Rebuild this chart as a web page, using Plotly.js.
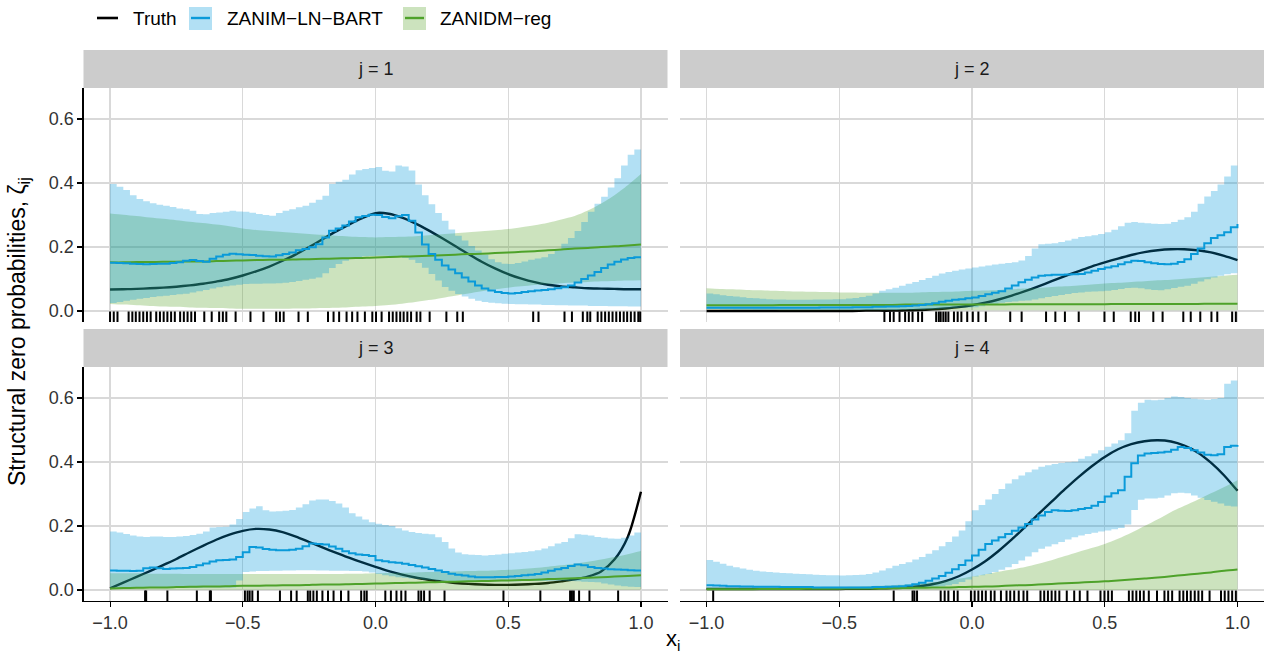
<!DOCTYPE html>
<html>
<head>
<meta charset="utf-8">
<script src="https://cdn.plot.ly/plotly-3.0.1.min.js"></script>
<style>
  html, body { margin: 0; padding: 0; background: #fff; }
  #chart { width: 1269px; height: 655px; }
</style>
</head>
<body>
<div id="chart"></div>
<script>
// Grids of covariate values at which the curves are evaluated
const X_SMOOTH = [
  -1.00, -0.95, -0.90, -0.85, -0.80, -0.75, -0.70, -0.65, -0.60, -0.55,
  -0.50, -0.45, -0.40, -0.35, -0.30, -0.25, -0.20, -0.15, -0.10, -0.05,
   0.00,  0.05,  0.10,  0.15,  0.20,  0.25,  0.30,  0.35,  0.40,  0.45,
   0.50,  0.55,  0.60,  0.65,  0.70,  0.75,  0.80,  0.85,  0.90,  0.95,
   1.00
];
const X_STEP = [
  -1.000, -0.975, -0.950, -0.925, -0.900, -0.875, -0.850, -0.825, -0.800, -0.775,
  -0.750, -0.725, -0.700, -0.675, -0.650, -0.625, -0.600, -0.575, -0.550, -0.525,
  -0.500, -0.475, -0.450, -0.425, -0.400, -0.375, -0.350, -0.325, -0.300, -0.275,
  -0.250, -0.225, -0.200, -0.175, -0.150, -0.125, -0.100, -0.075, -0.050, -0.025,
   0.000,  0.025,  0.050,  0.075,  0.100,  0.125,  0.150,  0.175,  0.200,  0.225,
   0.250,  0.275,  0.300,  0.325,  0.350,  0.375,  0.400,  0.425,  0.450,  0.475,
   0.500,  0.525,  0.550,  0.575,  0.600,  0.625,  0.650,  0.675,  0.700,  0.725,
   0.750,  0.775,  0.800,  0.825,  0.850,  0.875,  0.900,  0.925,  0.950,  0.975,
   1.000
];

const PANEL_LABELS = ['j = 1', 'j = 2', 'j = 3', 'j = 4'];
const SERIES_NAMES = ['Truth', 'ZANIM\u2212LN\u2212BART', 'ZANIDM\u2212reg'];
const X_TICKS = [-1, -0.5, 0, 0.5, 1];
const Y_TICKS = [0, 0.2, 0.4, 0.6];

// ---------- j = 1 ----------
const TRUTH_J1 = [
  0.067, 0.068, 0.069, 0.071, 0.073, 0.076, 0.080, 0.085, 0.092, 0.100,
  0.111, 0.124, 0.139, 0.157, 0.177, 0.200, 0.224, 0.248, 0.270, 0.290,
  0.306, 0.304, 0.292, 0.274, 0.252, 0.228, 0.203, 0.178, 0.154, 0.133,
  0.115, 0.101, 0.090, 0.082, 0.077, 0.074, 0.071, 0.070, 0.069, 0.068,
  0.068
];
const BART_MEAN_J1 = [
  0.151, 0.150, 0.149, 0.148, 0.147, 0.146, 0.147, 0.148, 0.148, 0.150,
  0.152, 0.157, 0.159, 0.156, 0.154, 0.163, 0.170, 0.176, 0.179, 0.177,
  0.176, 0.175, 0.173, 0.171, 0.170, 0.174, 0.178, 0.183, 0.190, 0.194,
  0.199, 0.209, 0.230, 0.251, 0.258, 0.267, 0.280, 0.293, 0.297, 0.301,
  0.300, 0.294, 0.290, 0.296, 0.300, 0.282, 0.245, 0.208, 0.178, 0.160,
  0.142, 0.130, 0.118, 0.105, 0.092, 0.080, 0.070, 0.064, 0.059, 0.056,
  0.055, 0.056, 0.059, 0.062, 0.064, 0.066, 0.068, 0.071, 0.074, 0.080,
  0.089, 0.100, 0.111, 0.122, 0.134, 0.145, 0.154, 0.161, 0.166, 0.168,
  0.168
];
const BART_HI_J1 = [
  0.397, 0.388, 0.378, 0.362, 0.350, 0.343, 0.337, 0.332, 0.329, 0.325,
  0.320, 0.318, 0.313, 0.303, 0.302, 0.306, 0.308, 0.310, 0.313, 0.311,
  0.310, 0.307, 0.303, 0.300, 0.298, 0.306, 0.313, 0.318, 0.324, 0.329,
  0.338, 0.348, 0.360, 0.397, 0.404, 0.410, 0.427, 0.440, 0.444, 0.447,
  0.450, 0.438, 0.436, 0.455, 0.452, 0.439, 0.395, 0.362, 0.334, 0.306,
  0.282, 0.255, 0.235, 0.220, 0.203, 0.189, 0.176, 0.162, 0.152, 0.148,
  0.147, 0.150, 0.155, 0.160, 0.164, 0.168, 0.178, 0.192, 0.210, 0.228,
  0.250, 0.278, 0.310, 0.335, 0.357, 0.386, 0.415, 0.455, 0.488, 0.505,
  0.517
];
const BART_LO_J1 = [
  0.025, 0.028, 0.032, 0.035, 0.038, 0.041, 0.044, 0.046, 0.048, 0.050,
  0.052, 0.054, 0.058, 0.062, 0.066, 0.070, 0.074, 0.077, 0.080, 0.082,
  0.084, 0.085, 0.085, 0.086, 0.086, 0.087, 0.088, 0.091, 0.094, 0.098,
  0.101, 0.105, 0.118, 0.134, 0.147, 0.157, 0.166, 0.169, 0.171, 0.172,
  0.173, 0.173, 0.172, 0.170, 0.166, 0.160, 0.150, 0.135, 0.116, 0.095,
  0.075, 0.063, 0.053, 0.045, 0.038, 0.032, 0.028, 0.026, 0.024, 0.023,
  0.022, 0.021, 0.021, 0.020, 0.020, 0.019, 0.019, 0.018, 0.018, 0.017,
  0.017, 0.017, 0.016, 0.016, 0.016, 0.015, 0.015, 0.015, 0.014, 0.014,
  0.014
];
const REG_MEAN_J1 = [
  0.152, 0.152, 0.153, 0.153, 0.154, 0.154, 0.155, 0.155, 0.156, 0.157,
  0.158, 0.159, 0.160, 0.160, 0.161, 0.162, 0.163, 0.164, 0.165, 0.166,
  0.167, 0.169, 0.170, 0.171, 0.173, 0.174, 0.176, 0.178, 0.179, 0.181,
  0.183, 0.185, 0.187, 0.190, 0.192, 0.195, 0.197, 0.200, 0.202, 0.205,
  0.208
];
const REG_HI_J1 = [
  0.305, 0.301, 0.297, 0.292, 0.288, 0.284, 0.279, 0.275, 0.270, 0.265,
  0.258, 0.253, 0.250, 0.247, 0.244, 0.241, 0.238, 0.235, 0.233, 0.231,
  0.230, 0.231, 0.232, 0.234, 0.237, 0.240, 0.243, 0.246, 0.249, 0.252,
  0.256, 0.262, 0.268, 0.276, 0.286, 0.297, 0.314, 0.336, 0.362, 0.393,
  0.428
];
const REG_LO_J1 = [
  0.022, 0.020, 0.018, 0.016, 0.014, 0.013, 0.011, 0.010, 0.009, 0.008,
  0.007, 0.007, 0.007, 0.007, 0.008, 0.008, 0.009, 0.010, 0.012, 0.014,
  0.016, 0.019, 0.023, 0.028, 0.034, 0.041, 0.048, 0.055, 0.062, 0.068,
  0.073, 0.077, 0.081, 0.084, 0.087, 0.089, 0.091, 0.093, 0.094, 0.095,
  0.096
];
const RUG_J1 = [
  -1.000, -0.986, -0.972, -0.930, -0.916, -0.903, -0.889, -0.875, -0.861, -0.847,
  -0.826, -0.812, -0.798, -0.784, -0.770, -0.756, -0.736, -0.722, -0.708, -0.694,
  -0.680, -0.645, -0.617, -0.589, -0.575, -0.562, -0.527, -0.471, -0.422, -0.374,
  -0.360, -0.346, -0.290, -0.255, -0.179, -0.158, -0.137, -0.109, -0.088, -0.068,
  -0.040, -0.012, 0.002, 0.023, 0.051, 0.065, 0.079, 0.093, 0.106, 0.120,
  0.134, 0.155, 0.169, 0.204, 0.267, 0.308, 0.329, 0.594, 0.614, 0.712,
  0.740, 0.781, 0.798, 0.809, 0.837, 0.851, 0.865, 0.879, 0.893, 0.907,
  0.921, 0.935, 0.948, 0.962, 0.976, 0.990, 0.997
];

// ---------- j = 2 ----------
const TRUTH_J2 = [
  0.000, 0.000, 0.000, 0.000, 0.000, 0.000, 0.000, 0.000, 0.000, 0.000,
  0.000, 0.000, 0.001, 0.001, 0.001, 0.002, 0.003, 0.005, 0.008, 0.012,
  0.018, 0.026, 0.036, 0.048, 0.062, 0.077, 0.093, 0.109, 0.124, 0.139,
  0.152, 0.164, 0.175, 0.184, 0.190, 0.193, 0.193, 0.190, 0.183, 0.172,
  0.159
];
const BART_MEAN_J2 = [
  0.010, 0.010, 0.010, 0.010, 0.010, 0.010, 0.010, 0.010, 0.010, 0.010,
  0.010, 0.010, 0.010, 0.010, 0.010, 0.010, 0.010, 0.011, 0.011, 0.011,
  0.011, 0.011, 0.012, 0.012, 0.012, 0.013, 0.013, 0.014, 0.014, 0.015,
  0.016, 0.017, 0.019, 0.021, 0.024, 0.029, 0.032, 0.035, 0.037, 0.040,
  0.042, 0.047, 0.052, 0.057, 0.062, 0.070, 0.080, 0.090, 0.098, 0.105,
  0.110, 0.112, 0.113, 0.113, 0.114, 0.115, 0.116, 0.120, 0.126, 0.131,
  0.136, 0.140, 0.146, 0.152, 0.157, 0.156, 0.152, 0.149, 0.147, 0.146,
  0.148, 0.153, 0.162, 0.178, 0.195, 0.212, 0.228, 0.237, 0.246, 0.262,
  0.272
];
const BART_HI_J2 = [
  0.055, 0.052, 0.049, 0.047, 0.045, 0.043, 0.041, 0.040, 0.038, 0.037,
  0.036, 0.036, 0.035, 0.035, 0.035, 0.035, 0.036, 0.036, 0.036, 0.037,
  0.037, 0.039, 0.041, 0.044, 0.048, 0.055, 0.063, 0.068, 0.073, 0.079,
  0.085, 0.091, 0.097, 0.103, 0.110, 0.117, 0.122, 0.126, 0.130, 0.133,
  0.136, 0.139, 0.142, 0.145, 0.148, 0.150, 0.152, 0.158, 0.172, 0.195,
  0.209, 0.210, 0.212, 0.216, 0.220, 0.226, 0.231, 0.234, 0.237, 0.241,
  0.246, 0.254, 0.265, 0.276, 0.278, 0.276, 0.274, 0.273, 0.272, 0.273,
  0.278, 0.285, 0.293, 0.310, 0.335, 0.358, 0.375, 0.395, 0.420, 0.455,
  0.476
];
const BART_LO_J2 = [
  0.006, 0.006, 0.005, 0.005, 0.004, 0.004, 0.004, 0.003, 0.003, 0.003,
  0.003, 0.003, 0.003, 0.003, 0.003, 0.003, 0.003, 0.003, 0.003, 0.003,
  0.003, 0.003, 0.003, 0.003, 0.003, 0.003, 0.003, 0.003, 0.003, 0.004,
  0.004, 0.005, 0.005, 0.006, 0.006, 0.007, 0.008, 0.009, 0.010, 0.011,
  0.012, 0.015, 0.019, 0.023, 0.026, 0.028, 0.030, 0.032, 0.033, 0.036,
  0.040, 0.044, 0.047, 0.050, 0.053, 0.056, 0.058, 0.060, 0.061, 0.062,
  0.063, 0.066, 0.069, 0.072, 0.073, 0.071, 0.068, 0.066, 0.065, 0.068,
  0.072, 0.076, 0.079, 0.085, 0.092, 0.099, 0.105, 0.110, 0.115, 0.118,
  0.120
];
const REG_MEAN_J2 = [
  0.018, 0.018, 0.018, 0.018, 0.018, 0.018, 0.019, 0.019, 0.019, 0.019,
  0.019, 0.019, 0.019, 0.019, 0.019, 0.020, 0.020, 0.020, 0.020, 0.020,
  0.020, 0.020, 0.020, 0.021, 0.021, 0.021, 0.021, 0.021, 0.021, 0.021,
  0.021, 0.022, 0.022, 0.022, 0.022, 0.022, 0.022, 0.022, 0.023, 0.023,
  0.023
];
const REG_HI_J2 = [
  0.071, 0.069, 0.068, 0.066, 0.065, 0.063, 0.062, 0.061, 0.060, 0.059,
  0.058, 0.058, 0.057, 0.057, 0.057, 0.057, 0.058, 0.059, 0.060, 0.061,
  0.063, 0.064, 0.066, 0.068, 0.070, 0.072, 0.075, 0.077, 0.080, 0.083,
  0.086, 0.088, 0.091, 0.093, 0.096, 0.098, 0.101, 0.104, 0.107, 0.110,
  0.113
];
const REG_LO_J2 = [
  0.004, 0.004, 0.003, 0.003, 0.003, 0.003, 0.002, 0.002, 0.002, 0.002,
  0.002, 0.002, 0.002, 0.002, 0.002, 0.002, 0.002, 0.002, 0.002, 0.002,
  0.002, 0.002, 0.002, 0.002, 0.002, 0.002, 0.002, 0.002, 0.002, 0.002,
  0.002, 0.002, 0.002, 0.002, 0.002, 0.002, 0.002, 0.002, 0.002, 0.002,
  0.002
];
const RUG_J2 = [
  -0.330, -0.309, -0.295, -0.273, -0.252, -0.238, -0.224, -0.203, -0.188, -0.135,
  -0.125, -0.118, -0.108, -0.099, -0.089, -0.068, -0.054, -0.040, -0.018, 0.003,
  0.024, 0.052, 0.144, 0.187, 0.279, 0.314, 0.350, 0.402, 0.499, 0.534,
  0.598, 0.615, 0.629, 0.683, 0.718, 0.796, 0.824, 0.860, 0.902, 0.924,
  0.980, 0.994
];

// ---------- j = 3 ----------
const TRUTH_J3 = [
  0.005, 0.023, 0.041, 0.059, 0.078, 0.097, 0.118, 0.138, 0.157, 0.173,
  0.185, 0.191, 0.189, 0.181, 0.167, 0.150, 0.133, 0.117, 0.101, 0.086,
  0.072, 0.059, 0.048, 0.039, 0.032, 0.026, 0.022, 0.019, 0.017, 0.016,
  0.016, 0.017, 0.019, 0.022, 0.027, 0.033, 0.042, 0.058, 0.095, 0.165,
  0.307
];
const BART_MEAN_J3 = [
  0.061, 0.060, 0.060, 0.059, 0.060, 0.068, 0.070, 0.068, 0.066, 0.067,
  0.068, 0.069, 0.072, 0.077, 0.083, 0.089, 0.093, 0.094, 0.095, 0.103,
  0.118, 0.134, 0.133, 0.128, 0.126, 0.124, 0.124, 0.126, 0.129, 0.137,
  0.145, 0.144, 0.142, 0.136, 0.129, 0.121, 0.115, 0.111, 0.109, 0.106,
  0.093, 0.090, 0.087, 0.085, 0.082, 0.078, 0.074, 0.070, 0.066, 0.061,
  0.056, 0.051, 0.048, 0.045, 0.042, 0.040, 0.040, 0.040, 0.041, 0.041,
  0.042, 0.044, 0.046, 0.048, 0.050, 0.055, 0.060, 0.065, 0.069, 0.075,
  0.080, 0.077, 0.072, 0.069, 0.067, 0.065, 0.064, 0.063, 0.062, 0.061,
  0.061
];
const BART_HI_J3 = [
  0.183, 0.180, 0.175, 0.170, 0.167, 0.166, 0.167, 0.167, 0.166, 0.166,
  0.167, 0.169, 0.172, 0.176, 0.183, 0.195, 0.197, 0.198, 0.205, 0.222,
  0.244, 0.255, 0.262, 0.249, 0.245, 0.246, 0.248, 0.250, 0.258, 0.268,
  0.280, 0.283, 0.283, 0.278, 0.270, 0.258, 0.240, 0.230, 0.220, 0.212,
  0.207, 0.203, 0.200, 0.193, 0.186, 0.181, 0.178, 0.176, 0.174, 0.165,
  0.150, 0.130, 0.117, 0.112, 0.110, 0.109, 0.108, 0.109, 0.111, 0.113,
  0.115, 0.117, 0.119, 0.121, 0.124, 0.130, 0.137, 0.145, 0.150, 0.162,
  0.174, 0.173, 0.170, 0.166, 0.163, 0.161, 0.160, 0.163, 0.170, 0.180,
  0.183
];
const BART_LO_J3 = [
  0.005, 0.005, 0.005, 0.006, 0.006, 0.006, 0.006, 0.006, 0.006, 0.007,
  0.007, 0.007, 0.007, 0.007, 0.008, 0.008, 0.008, 0.008, 0.008, 0.030,
  0.056, 0.058, 0.059, 0.059, 0.060, 0.060, 0.061, 0.061, 0.062, 0.062,
  0.062, 0.061, 0.061, 0.060, 0.060, 0.060, 0.059, 0.059, 0.058, 0.055,
  0.050, 0.046, 0.043, 0.040, 0.038, 0.036, 0.034, 0.032, 0.031, 0.030,
  0.029, 0.028, 0.028, 0.027, 0.027, 0.027, 0.027, 0.027, 0.027, 0.027,
  0.027, 0.027, 0.028, 0.028, 0.028, 0.028, 0.029, 0.029, 0.029, 0.028,
  0.027, 0.026, 0.025, 0.024, 0.020, 0.017, 0.014, 0.012, 0.010, 0.009,
  0.008
];
const REG_MEAN_J3 = [
  0.005, 0.006, 0.007, 0.008, 0.008, 0.009, 0.010, 0.011, 0.011, 0.012,
  0.013, 0.013, 0.014, 0.015, 0.015, 0.016, 0.017, 0.017, 0.018, 0.019,
  0.020, 0.021, 0.022, 0.023, 0.024, 0.025, 0.026, 0.027, 0.028, 0.029,
  0.030, 0.031, 0.032, 0.034, 0.035, 0.037, 0.038, 0.040, 0.042, 0.044,
  0.046
];
const REG_HI_J3 = [
  0.052, 0.052, 0.052, 0.051, 0.051, 0.051, 0.050, 0.050, 0.050, 0.050,
  0.050, 0.050, 0.050, 0.050, 0.050, 0.050, 0.050, 0.050, 0.051, 0.051,
  0.052, 0.053, 0.054, 0.055, 0.056, 0.057, 0.058, 0.059, 0.060, 0.061,
  0.063, 0.066, 0.069, 0.073, 0.077, 0.082, 0.088, 0.095, 0.103, 0.112,
  0.122
];
const REG_LO_J3 = [
  0.001, 0.001, 0.001, 0.001, 0.001, 0.001, 0.001, 0.001, 0.001, 0.001,
  0.001, 0.001, 0.001, 0.001, 0.001, 0.001, 0.001, 0.001, 0.001, 0.001,
  0.001, 0.001, 0.001, 0.001, 0.001, 0.001, 0.001, 0.001, 0.001, 0.001,
  0.001, 0.001, 0.001, 0.001, 0.001, 0.001, 0.001, 0.001, 0.001, 0.001,
  0.001
];
const RUG_J3 = [
  -0.868, -0.864, -0.784, -0.673, -0.624, -0.620, -0.492, -0.482, -0.474, -0.464,
  -0.443, -0.360, -0.318, -0.297, -0.255, -0.246, -0.234, -0.221, -0.200, -0.179,
  -0.158, -0.130, -0.102, -0.054, -0.042, -0.033, 0.037, 0.058, 0.079, 0.097,
  0.113, 0.162, 0.172, 0.183, 0.204, 0.260, 0.482, 0.621, 0.733, 0.740,
  0.747, 0.767, 0.806, 0.914
];

// ---------- j = 4 ----------
const TRUTH_J4 = [
  0.003, 0.003, 0.003, 0.003, 0.003, 0.003, 0.003, 0.003, 0.003, 0.003,
  0.003, 0.004, 0.004, 0.005, 0.006, 0.008, 0.012, 0.018, 0.028, 0.043,
  0.064, 0.090, 0.122, 0.158, 0.197, 0.237, 0.276, 0.315, 0.352, 0.386,
  0.416, 0.440, 0.456, 0.465, 0.468, 0.464, 0.451, 0.430, 0.398, 0.358,
  0.310
];
const BART_MEAN_J4 = [
  0.015, 0.014, 0.013, 0.012, 0.012, 0.011, 0.011, 0.010, 0.010, 0.010,
  0.010, 0.009, 0.009, 0.009, 0.009, 0.009, 0.008, 0.008, 0.008, 0.008,
  0.008, 0.008, 0.008, 0.008, 0.008, 0.009, 0.009, 0.010, 0.011, 0.012,
  0.014, 0.018, 0.023, 0.029, 0.036, 0.044, 0.054, 0.065, 0.078, 0.092,
  0.108, 0.126, 0.144, 0.155, 0.165, 0.175, 0.185, 0.195, 0.206, 0.220,
  0.233, 0.244, 0.249, 0.248, 0.247, 0.249, 0.253, 0.256, 0.263, 0.275,
  0.292, 0.302, 0.312, 0.354, 0.396, 0.420, 0.427, 0.428, 0.430, 0.432,
  0.438, 0.447, 0.444, 0.437, 0.430, 0.423, 0.421, 0.424, 0.447, 0.451,
  0.453
];
const BART_HI_J4 = [
  0.094, 0.088, 0.082, 0.076, 0.071, 0.067, 0.063, 0.060, 0.058, 0.056,
  0.055, 0.053, 0.052, 0.051, 0.050, 0.049, 0.048, 0.047, 0.046, 0.046,
  0.045, 0.046, 0.047, 0.048, 0.050, 0.055, 0.061, 0.068, 0.076, 0.081,
  0.087, 0.095, 0.103, 0.113, 0.124, 0.137, 0.150, 0.167, 0.186, 0.215,
  0.249, 0.266, 0.283, 0.300, 0.316, 0.333, 0.346, 0.358, 0.368, 0.377,
  0.385, 0.390, 0.394, 0.397, 0.399, 0.401, 0.410, 0.418, 0.427, 0.437,
  0.448, 0.458, 0.468, 0.490, 0.560, 0.585, 0.595, 0.593, 0.595, 0.600,
  0.605, 0.603, 0.600, 0.598, 0.596, 0.595, 0.597, 0.600, 0.645, 0.655,
  0.663
];
const BART_LO_J4 = [
  0.004, 0.004, 0.003, 0.003, 0.003, 0.003, 0.003, 0.003, 0.003, 0.003,
  0.003, 0.003, 0.003, 0.003, 0.003, 0.003, 0.003, 0.003, 0.003, 0.003,
  0.003, 0.003, 0.003, 0.003, 0.003, 0.003, 0.003, 0.003, 0.003, 0.004,
  0.004, 0.005, 0.006, 0.008, 0.010, 0.012, 0.015, 0.019, 0.025, 0.033,
  0.042, 0.046, 0.050, 0.056, 0.063, 0.071, 0.081, 0.092, 0.105, 0.118,
  0.129, 0.136, 0.143, 0.150, 0.158, 0.165, 0.170, 0.175, 0.179, 0.183,
  0.186, 0.190, 0.194, 0.205, 0.250, 0.282, 0.286, 0.286, 0.288, 0.295,
  0.302, 0.304, 0.302, 0.295, 0.288, 0.281, 0.276, 0.270, 0.263, 0.261,
  0.260
];
const REG_MEAN_J4 = [
  0.002, 0.002, 0.002, 0.002, 0.003, 0.003, 0.003, 0.003, 0.004, 0.004,
  0.004, 0.005, 0.005, 0.005, 0.006, 0.006, 0.007, 0.008, 0.008, 0.009,
  0.010, 0.011, 0.012, 0.014, 0.015, 0.017, 0.019, 0.021, 0.023, 0.025,
  0.027, 0.030, 0.033, 0.036, 0.039, 0.043, 0.047, 0.051, 0.055, 0.060,
  0.064
];
const REG_HI_J4 = [
  0.008, 0.008, 0.008, 0.008, 0.008, 0.008, 0.008, 0.009, 0.009, 0.010,
  0.010, 0.011, 0.012, 0.013, 0.015, 0.017, 0.020, 0.024, 0.029, 0.035,
  0.042, 0.049, 0.057, 0.064, 0.072, 0.082, 0.093, 0.106, 0.119, 0.131,
  0.144, 0.160, 0.179, 0.200, 0.221, 0.244, 0.263, 0.282, 0.302, 0.322,
  0.343
];
const REG_LO_J4 = [
  0.000, 0.000, 0.000, 0.000, 0.000, 0.000, 0.000, 0.000, 0.000, 0.000,
  0.000, 0.000, 0.000, 0.000, 0.000, 0.000, 0.000, 0.000, 0.000, 0.000,
  0.000, 0.000, 0.000, 0.000, 0.000, 0.000, 0.000, 0.000, 0.000, 0.000,
  0.000, 0.000, 0.000, 0.000, 0.000, 0.000, 0.000, 0.000, 0.000, 0.000,
  0.000
];
const RUG_J4 = [
  -0.975, -0.295, -0.224, -0.217, -0.207, -0.118, -0.103, -0.089, -0.068, -0.054,
  -0.004, 0.010, 0.024, 0.038, 0.052, 0.071, 0.085, 0.109, 0.130, 0.144,
  0.159, 0.176, 0.194, 0.208, 0.258, 0.272, 0.286, 0.300, 0.314, 0.329,
  0.357, 0.385, 0.406, 0.435, 0.484, 0.499, 0.513, 0.527, 0.591, 0.605,
  0.619, 0.633, 0.647, 0.666, 0.697, 0.725, 0.739, 0.754, 0.782, 0.796,
  0.810, 0.824, 0.839, 0.853, 0.867, 0.895, 0.938, 0.952, 0.966, 0.980,
  0.994
];

// ---------- drawing ----------
const W = 1269, H = 655;
const FONT = '"Liberation Sans", Arial, Helvetica, sans-serif';
const BLUE = '#0A9AD9';
const BLUE_FILL = 'rgba(0,152,219,0.30)';
const GREEN = '#4EA22A';
const GREEN_FILL = 'rgba(87,163,40,0.30)';
const GRID = '#D9D9D9';
const Y_RANGE = [-0.0344, 0.697];
const X_RANGE = [-1.1, 1.1];
const RUG_Y = Y_RANGE[0] + 0.0141;

// panel boxes in pixels: columns (left/right) and rows (top/bottom)
const COLS = [[83.5, 667.5], [680, 1264]];
const ROWS = [[88, 322], [367, 601]];
const STRIP_H = 38;

const panels = [
  {truth: TRUTH_J1, bMean: BART_MEAN_J1, bHi: BART_HI_J1, bLo: BART_LO_J1,
   rMean: REG_MEAN_J1, rHi: REG_HI_J1, rLo: REG_LO_J1, rug: RUG_J1},
  {truth: TRUTH_J2, bMean: BART_MEAN_J2, bHi: BART_HI_J2, bLo: BART_LO_J2,
   rMean: REG_MEAN_J2, rHi: REG_HI_J2, rLo: REG_LO_J2, rug: RUG_J2},
  {truth: TRUTH_J3, bMean: BART_MEAN_J3, bHi: BART_HI_J3, bLo: BART_LO_J3,
   rMean: REG_MEAN_J3, rHi: REG_HI_J3, rLo: REG_LO_J3, rug: RUG_J3},
  {truth: TRUTH_J4, bMean: BART_MEAN_J4, bHi: BART_HI_J4, bLo: BART_LO_J4,
   rMean: REG_MEAN_J4, rHi: REG_HI_J4, rLo: REG_LO_J4, rug: RUG_J4}
];

const data = [];
const layout = {
  width: W, height: H,
  margin: {l: 0, r: 0, t: 0, b: 0},
  paper_bgcolor: '#fff', plot_bgcolor: '#fff',
  font: {family: FONT, color: '#1a1a1a'},
  showlegend: false,
  shapes: [], annotations: []
};

panels.forEach((p, k) => {
  const sfx = k === 0 ? '' : String(k + 1);
  const xa = 'x' + sfx, ya = 'y' + sfx;
  const col = COLS[k % 2], row = ROWS[Math.floor(k / 2)];
  const isLeft = k % 2 === 0, isBottom = k >= 2;
  const common = {xaxis: xa, yaxis: ya, hoverinfo: 'skip', showlegend: false};
  const smooth = {shape: 'spline', smoothing: 0.8};

  // truth underneath, then the two credible bands (regression first), then the estimates
  data.push(Object.assign({x: X_SMOOTH, y: p.truth, mode: 'lines', name: SERIES_NAMES[0],
    line: Object.assign({color: '#000', width: 2.4}, smooth)}, common));
  data.push(Object.assign({x: X_SMOOTH, y: p.rHi, mode: 'lines',
    line: Object.assign({width: 0}, smooth)}, common));
  data.push(Object.assign({x: X_SMOOTH, y: p.rLo, mode: 'lines', fill: 'tonexty', fillcolor: GREEN_FILL,
    line: Object.assign({width: 0}, smooth)}, common));
  data.push(Object.assign({x: X_STEP, y: p.bHi, mode: 'lines',
    line: {width: 0, shape: 'hv'}}, common));
  data.push(Object.assign({x: X_STEP, y: p.bLo, mode: 'lines', fill: 'tonexty', fillcolor: BLUE_FILL,
    line: {width: 0, shape: 'hv'}}, common));
  data.push(Object.assign({x: X_SMOOTH, y: p.rMean, mode: 'lines', name: SERIES_NAMES[2],
    line: Object.assign({color: GREEN, width: 2}, smooth)}, common));
  data.push(Object.assign({x: X_STEP, y: p.bMean, mode: 'lines', name: SERIES_NAMES[1],
    line: {color: BLUE, width: 2, shape: 'hv'}}, common));
  data.push(Object.assign({x: p.rug, y: p.rug.map(() => RUG_Y), mode: 'markers',
    marker: {symbol: 'line-ns', size: 8.5, color: '#000', line: {color: '#000', width: 2}}}, common));

  layout['xaxis' + sfx] = {
    domain: [col[0] / W, col[1] / W], anchor: ya, range: X_RANGE,
    tickvals: X_TICKS, tickformat: '.1f',
    showgrid: true, gridcolor: GRID, gridwidth: 1.2, zeroline: false,
    showline: isBottom, linecolor: '#000', linewidth: 1.1,
    ticks: isBottom ? 'outside' : '', ticklen: 5, tickwidth: 1.1, tickcolor: '#000',
    showticklabels: isBottom,
    tickfont: {family: FONT, size: 18, color: '#333'}
  };
  layout['yaxis' + sfx] = {
    domain: [1 - row[1] / H, 1 - row[0] / H], anchor: xa, range: Y_RANGE,
    tickvals: Y_TICKS, tickformat: '.1f',
    showgrid: true, gridcolor: GRID, gridwidth: 1.2, zeroline: false,
    showline: isLeft, linecolor: '#000', linewidth: 1.1,
    ticks: isLeft ? 'outside' : '', ticklen: 5, tickwidth: 1.1, tickcolor: '#000',
    showticklabels: isLeft,
    tickfont: {family: FONT, size: 18, color: '#333'}
  };

  // facet strip
  layout.shapes.push({type: 'rect', xref: 'paper', yref: 'paper',
    x0: col[0] / W, x1: col[1] / W, y0: 1 - row[0] / H, y1: 1 - (row[0] - STRIP_H) / H,
    fillcolor: '#CCCCCC', line: {width: 0}, layer: 'below'});
  layout.annotations.push({xref: 'paper', yref: 'paper', showarrow: false,
    x: (col[0] + col[1]) / 2 / W, y: 1 - (row[0] - STRIP_H / 2) / H,
    xanchor: 'center', yanchor: 'middle', text: PANEL_LABELS[k],
    font: {family: FONT, size: 18, color: '#1a1a1a'}});
});

// axis titles
layout.annotations.push({xref: 'paper', yref: 'paper', showarrow: false,
  x: 18 / W, y: 1 - 332 / H, xanchor: 'center', yanchor: 'middle', textangle: -90,
  text: 'Structural zero probabilities, \u03b6<sub>ij</sub>',
  font: {family: FONT, size: 23, color: '#000'}});
layout.annotations.push({xref: 'paper', yref: 'paper', showarrow: false,
  x: 673 / W, y: 1 - 640 / H, xanchor: 'center', yanchor: 'middle',
  text: 'x<sub>i</sub>', font: {family: FONT, size: 22, color: '#000'}});

// key above the panels
const KEY_Y = 1 - 18 / H;
layout.shapes.push({type: 'line', xref: 'paper', yref: 'paper',
  x0: 97 / W, x1: 118 / W, y0: KEY_Y, y1: KEY_Y, line: {color: '#000', width: 2.6}});
[[189, BLUE_FILL, BLUE], [403, GREEN_FILL, GREEN]].forEach(([x0, fill, stroke]) => {
  layout.shapes.push({type: 'rect', xref: 'paper', yref: 'paper',
    x0: x0 / W, x1: (x0 + 23) / W, y0: 1 - 30 / H, y1: 1 - 7 / H,
    fillcolor: fill, line: {width: 0}});
  layout.shapes.push({type: 'line', xref: 'paper', yref: 'paper',
    x0: (x0 + 2) / W, x1: (x0 + 21) / W, y0: KEY_Y, y1: KEY_Y, line: {color: stroke, width: 2.4}});
});
[[131, SERIES_NAMES[0]], [225, SERIES_NAMES[1]], [438, SERIES_NAMES[2]]].forEach(([x, t]) => {
  layout.annotations.push({xref: 'paper', yref: 'paper', showarrow: false,
    x: x / W, y: KEY_Y, xanchor: 'left', yanchor: 'middle', text: t,
    font: {family: FONT, size: 19, color: '#000'}});
});

Plotly.newPlot('chart', data, layout, {staticPlot: true, displayModeBar: false});
</script>
</body>
</html>
